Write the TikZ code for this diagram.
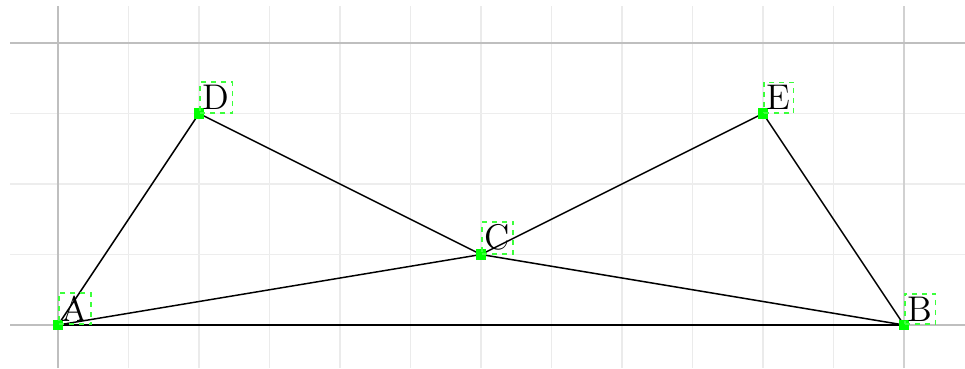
\documentclass[tikz,border=0pt]{standalone}
\begin{document}
\begin{tikzpicture}[
  pt/.style={fill={rgb,255:red,0;green,255;blue,0}, inner sep=0pt, minimum size=0.15cm, rectangle},
  lbl/.style={draw={rgb,255:red,60;green,255;blue,60}, dash pattern=on 2pt off 2pt, line width=0.7pt, inner sep=1.2pt, anchor=south west, font=\Large},
  seg/.style={black, line width=0.6pt}
]
\useasboundingbox (-0.823,-0.61) rectangle (12.865,4.61);
% grid
\foreach \x in {1,...,11} \draw[black!8, line width=0.5pt] (\x,-0.61) -- (\x,4.52);
\foreach \y in {1,2,3} \draw[black!7, line width=0.5pt] (-0.68,\y) -- (12.865,\y);
\draw[black!25, line width=0.9pt] (0,-0.61) -- (0,4.52);
\draw[black!18, line width=0.9pt] (12,-0.61) -- (12,4.52);
\draw[black!25, line width=1pt] (-0.68,4) -- (12.865,4);
\draw[black!25, line width=1pt] (-0.68,0) -- (12.865,0);
% points
\coordinate (A) at (0,0);
\coordinate (B) at (12,0);
\coordinate (C) at (6,1);
\coordinate (D) at (2,3);
\coordinate (E) at (10,3);
\draw[seg] (A) -- (B);
\draw[seg] (A) -- (C) -- (B);
\draw[seg] (A) -- (D) -- (C) -- (E) -- (B);
\foreach \p in {A,B,C,D,E} {
  \node[pt] (p\p) at (\p) {};
  \node[lbl] (l\p) at (\p) {\p};
}
\end{tikzpicture}
\end{document}
